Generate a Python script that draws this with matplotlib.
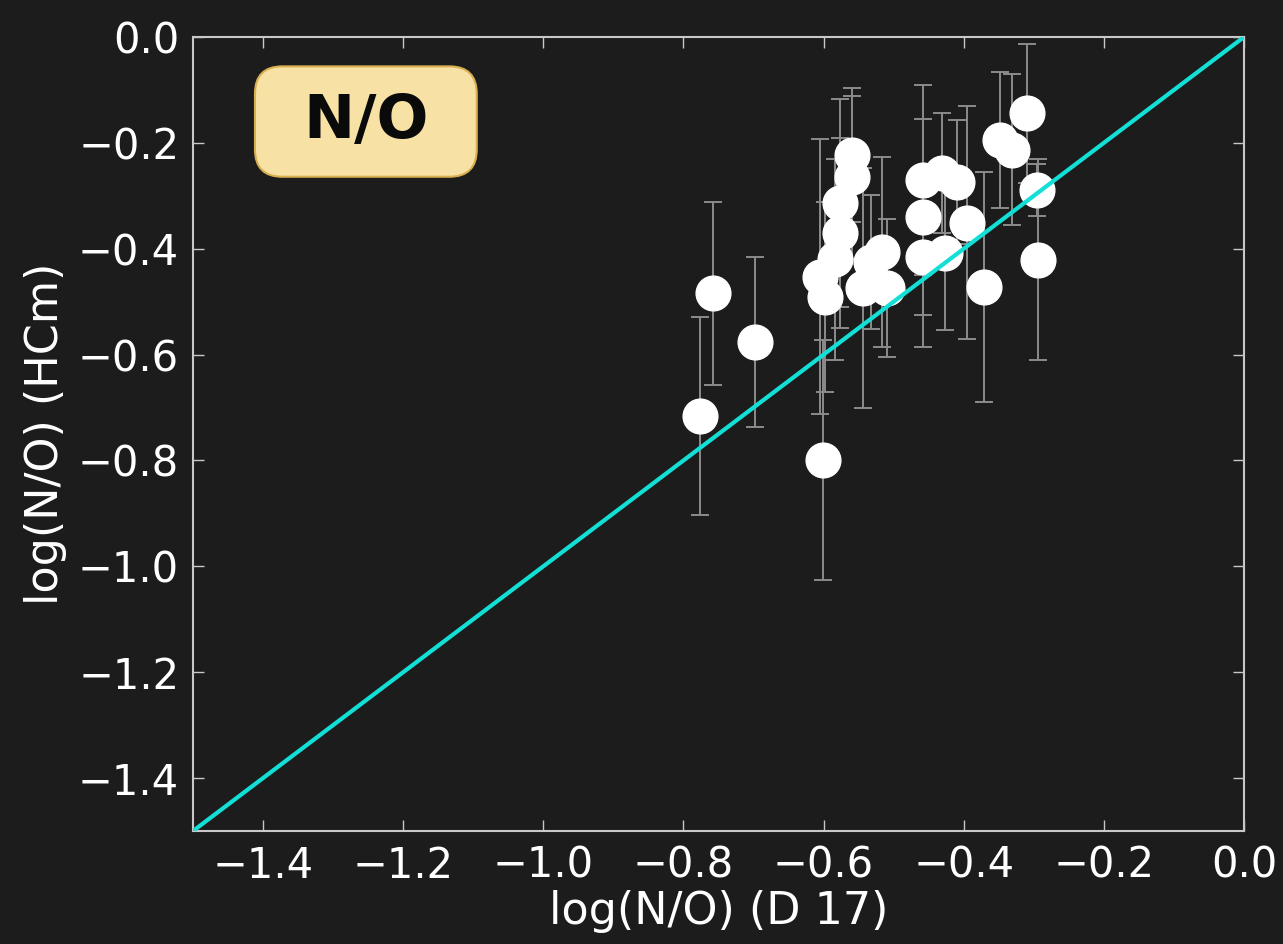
import matplotlib
matplotlib.use("Agg")
import matplotlib.pyplot as plt
from matplotlib.patches import FancyBboxPatch

# log(N/O) D17 vs HCm
no_d17 = [-0.776, -0.758, -0.698, -0.601, -0.605, -0.598, -0.577, -0.577, -0.584,
          -0.559, -0.559, -0.544, -0.532, -0.517, -0.510, -0.458, -0.458, -0.458,
          -0.431, -0.427, -0.410, -0.395, -0.371, -0.348, -0.331, -0.310, -0.296,
          -0.294]
no_hcm = [-0.716, -0.484, -0.576, -0.799, -0.453, -0.491, -0.314, -0.370, -0.420,
          -0.223, -0.265, -0.474, -0.425, -0.406, -0.474, -0.270, -0.340, -0.416,
          -0.257, -0.408, -0.274, -0.351, -0.472, -0.195, -0.213, -0.144, -0.289,
          -0.421]
no_hcm_err = [0.187, 0.173, 0.160, 0.227, 0.260, 0.180, 0.197, 0.180, 0.190,
              0.127, 0.154, 0.227, 0.126, 0.180, 0.130, 0.180, 0.185, 0.170,
              0.113, 0.146, 0.117, 0.220, 0.217, 0.128, 0.143, 0.131, 0.050,
              0.190]
one_to_one = [-1.5, 0.0]
ticks = [-1.4, -1.2, -1.0, -0.8, -0.6, -0.4, -0.2, 0.0]

bg = "#1c1c1c"
fig = plt.figure(figsize=(12.83, 9.44), dpi=100, facecolor=bg)
ax = fig.add_axes([0.1504, 0.1197, 0.8192, 0.8411], facecolor=bg)

ax.errorbar(no_d17, no_hcm, yerr=no_hcm_err, fmt="o", color="white", ms=25,
            mec="white", ecolor="#8c8c8c", elinewidth=1.4, capsize=6.5,
            capthick=1.4, zorder=2)
ax.plot(one_to_one, one_to_one, color="#12e0d6", lw=3, zorder=3)

ax.set_xlim(-1.5, 0.0)
ax.set_ylim(-1.5, 0.0)
ax.set_xticks(ticks)
ax.set_yticks(ticks)
for s in ax.spines.values():
    s.set_color("#c8c8c8")
    s.set_linewidth(1.5)
ax.tick_params(direction="in", top=True, right=True, length=8, width=1,
               color="#c8c8c8", labelcolor="white", labelsize=30, pad=10)
ax.set_xlabel("log(N/O) (D 17)", color="white", fontsize=32, labelpad=2)
ax.set_ylabel("log(N/O) (HCm)", color="white", fontsize=32, labelpad=8)

# label box
box = FancyBboxPatch((0.059, 0.824), 0.211, 0.139, transform=ax.transAxes,
                     boxstyle="round,pad=0,rounding_size=0.026",
                     mutation_aspect=1051 / 794, facecolor="#f8e1a5",
                     edgecolor="#d8b050", lw=1.5, zorder=4)
ax.add_patch(box)
ax.text(0.165, 0.893, "N/O", transform=ax.transAxes, ha="center", va="center",
        fontsize=44, fontweight="bold", color="#0a0a0a", zorder=5)

fig.savefig("out.png", dpi=100, facecolor=bg)
